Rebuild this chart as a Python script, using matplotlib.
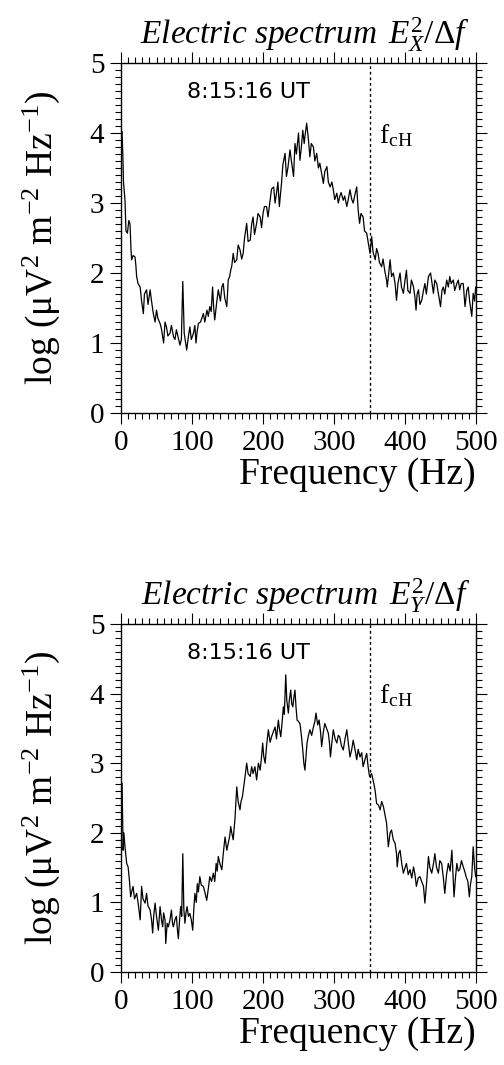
import numpy as np
import matplotlib
matplotlib.use('Agg')
import matplotlib.pyplot as plt
from matplotlib.ticker import MultipleLocator

plt.rcParams['font.family'] = ['Liberation Serif', 'DejaVu Serif']
plt.rcParams['mathtext.fontset'] = 'custom'
plt.rcParams['mathtext.rm'] = 'Liberation Serif'
plt.rcParams['mathtext.it'] = 'Liberation Serif:italic'
plt.rcParams['mathtext.default'] = 'regular'

# spectrum E_X (top panel), frequency in Hz / log power
fx = [1.5, 2.5, 3.5, 5.6, 7, 9, 11, 12.7, 14, 15, 17, 19.7, 21, 22, 24, 27, 29, 31.5, 33, 36, 38, 41,
      43, 45.5, 48, 50, 52, 55, 57, 60, 62, 64, 66, 69, 71, 74, 76, 78, 80, 83, 85, 87, 89, 91,
      92.5, 95, 97, 99, 102, 104, 105.6, 107, 109, 112, 116, 118, 121, 123, 125, 127, 129, 130.5,
      132, 135, 137, 140, 142, 144, 146, 149, 151, 153, 154.5, 156, 158, 160, 163, 165, 167.6,
      170, 172, 174, 177, 179, 182, 184, 186, 188, 191, 193, 196, 198, 200, 202, 205, 207, 210,
      212, 215, 217, 219, 221, 223, 226, 228, 231, 233, 235, 238, 240, 243, 245, 247, 250, 252,
      254, 256, 258, 259, 261.5, 264, 266, 268, 271, 273, 275.6, 278, 280, 283, 285, 287, 290,
      292, 294.5, 297, 299, 301, 304, 306, 308, 310, 313, 315, 318, 320, 322.5, 325, 327, 329,
      332, 334, 336, 338, 341, 343, 346, 348, 350.7, 353, 355, 358, 360, 362, 364, 367, 369, 372,
      374, 375, 377, 379, 381, 383.5, 386, 388, 390, 393, 395, 397.7, 400, 402, 404, 407, 409,
      412, 414, 415.5, 417, 419, 421, 423.5, 426, 428, 430, 433, 436, 438, 440, 442, 444.6, 447,
      450, 452, 454, 456, 458.7, 461, 463, 465, 468, 470, 473, 475, 477, 479, 482, 484.5, 487,
      489, 491, 494, 496, 498, 499.5]
ex = [4.02, 3.7, 3.3, 3.04, 2.6, 2.57, 2.75, 2.7, 2.35, 2.19, 2.25, 2.23, 2.1, 1.95, 1.85, 1.8,
      1.6, 1.42, 1.7, 1.76, 1.55, 1.76, 1.6, 1.42, 1.3, 1.47, 1.35, 1.28, 1.2, 1.0, 1.3, 1.23,
      1.1, 1.14, 1.25, 1.09, 1.05, 1.19, 1.1, 0.97, 1.05, 1.88, 1.14, 1.0, 0.9, 1.1, 1.23, 1.05,
      1.14, 1.25, 1.0, 1.15, 1.28, 1.3, 1.42, 1.3, 1.47, 1.38, 1.52, 1.45, 1.8, 1.5, 1.33, 1.6,
      1.76, 1.6, 1.8, 1.85, 1.65, 1.52, 1.9, 1.95, 2.04, 2.1, 2.28, 2.15, 2.19, 2.4, 2.33, 2.2,
      2.28, 2.5, 2.71, 2.45, 2.47, 2.7, 2.8, 2.55, 2.71, 2.85, 2.8, 2.65, 2.85, 2.95, 2.95, 2.8,
      3.04, 3.2, 3.23, 3.0, 3.14, 3.3, 2.95, 3.28, 3.55, 3.71, 3.38, 3.5, 3.76, 3.6, 3.38, 3.85,
      3.7, 4.0, 3.61, 3.8, 4.04, 3.85, 3.95, 4.14, 3.9, 3.66, 3.85, 3.8, 3.6, 3.71, 3.5, 3.57,
      3.4, 3.28, 3.45, 3.52, 3.3, 3.23, 3.3, 3.19, 3.05, 3.14, 3.0, 3.09, 3.15, 3.04, 3.1, 2.95,
      3.05, 3.19, 3.05, 3.0, 3.1, 3.23, 2.9, 2.71, 2.85, 2.8, 2.6, 2.57, 2.45, 2.28, 2.52, 2.3,
      2.19, 2.35, 2.28, 2.15, 2.09, 2.2, 2.0, 1.9, 1.8, 2.0, 2.19, 1.95, 2.0, 1.85, 1.61, 1.85,
      2.0, 1.8, 1.71, 1.9, 2.04, 1.75, 1.71, 1.9, 1.8, 1.65, 1.47, 1.7, 1.76, 1.55, 1.61, 1.75,
      1.85, 1.7, 1.95, 2.0, 1.85, 1.71, 1.9, 1.85, 1.7, 1.52, 1.75, 1.8, 1.7, 1.9, 1.8, 1.95,
      1.85, 1.9, 1.75, 1.85, 1.9, 1.76, 1.85, 1.85, 1.52, 1.75, 1.8, 1.6, 1.38, 1.71, 1.6, 1.8]

# spectrum E_Y (bottom panel)
fy = [1.5, 3, 4, 5.6, 8, 10, 12, 13.6, 15, 17, 19, 22, 24, 27, 29, 31, 34, 36, 38, 41, 43, 44.6,
      46, 48, 50, 52.6, 55, 57, 58.7, 60, 62, 63, 65, 66.7, 69, 71, 72.5, 73.7, 76, 78, 79.5,
      80.8, 82.5, 84, 85.5, 87, 88.5, 90, 91.5, 93, 95, 97, 99, 101, 102.5, 104, 106, 107.5, 109,
      111, 113, 116, 118, 120.7, 123, 125, 127.5, 130, 132, 134, 135.5, 137, 139.5, 142, 144,
      146.5, 149, 151, 153, 154.5, 156, 158, 160.5, 163, 165, 167.6, 169, 171, 174, 177, 179,
      182, 184, 186, 188.5, 191, 193.5, 196, 198, 199.5, 201, 203, 205, 207.5, 210, 212, 214.5,
      217, 219, 221.6, 223, 225, 227, 228.6, 230, 232, 233.5, 235.7, 237, 239, 240.5, 242,
      243.5, 245, 246.5, 248, 250, 252, 254, 256, 257.5, 259, 260.5, 262, 264, 266, 268.5, 271,
      273, 274.6, 277, 279, 281, 282.6, 285, 287, 289.5, 292, 293.5, 295, 297, 299, 301.5, 304,
      306, 308, 310.5, 313, 315.5, 318, 320, 322.5, 325, 327, 329.5, 332, 334, 336.6, 339, 341,
      343.5, 346, 348, 350, 353, 356, 358, 360, 362.5, 365, 367, 369.5, 372, 374, 376.5, 379,
      381, 383.5, 386, 388, 389, 391, 393, 395.5, 397.7, 400, 402, 404.5, 407, 409.5, 412, 414,
      416, 418.5, 421, 423.5, 426, 428, 430.5, 433, 435, 437.6, 440, 442, 444.5, 447, 449, 451.6,
      454, 456, 458.5, 461, 463.5, 466, 467.5, 469, 471, 473, 475, 477, 479.5, 482, 484, 486,
      488.5, 490.6, 492, 494, 496, 498, 499.5]
ey = [2.71, 1.75, 2.0, 1.8, 1.56, 1.51, 1.3, 1.08, 1.15, 1.23, 1.05, 1.13, 1.0, 0.75, 1.23, 1.05,
      0.99, 1.13, 0.95, 0.89, 0.75, 0.56, 0.8, 0.99, 0.8, 0.6, 0.94, 0.75, 0.65, 0.85, 0.75, 0.41,
      0.7, 0.65, 0.75, 0.89, 0.7, 0.65, 0.75, 0.8, 0.6, 0.48, 0.75, 0.94, 0.8, 1.7, 0.9, 0.7, 0.85,
      0.94, 0.8, 0.84, 0.75, 0.6, 0.9, 1.13, 1.0, 1.27, 1.15, 1.37, 1.25, 1.23, 1.15, 1.03, 1.2,
      1.37, 1.3, 1.42, 1.3, 1.56, 1.45, 1.66, 1.55, 1.47, 1.7, 1.94, 1.75, 1.85, 1.95, 2.09, 2.0,
      1.9, 2.2, 2.66, 2.45, 2.33, 2.45, 2.52, 2.75, 3.0, 2.85, 2.81, 2.95, 2.85, 2.95, 2.76, 3.0,
      2.9, 3.1, 3.29, 3.1, 3.0, 3.25, 3.48, 3.3, 3.38, 3.45, 3.52, 3.35, 3.62, 3.5, 3.38, 3.6,
      3.81, 3.7, 4.27, 3.9, 3.72, 3.9, 4.05, 3.85, 3.81, 3.95, 4.05, 3.8, 3.62, 3.6, 3.57, 3.4,
      3.19, 3.0, 2.9, 3.1, 3.29, 3.4, 3.48, 3.4, 3.52, 3.6, 3.72, 3.55, 3.62, 3.45, 3.24, 3.45,
      3.57, 3.5, 3.43, 3.3, 3.09, 3.3, 3.48, 3.35, 3.29, 3.4, 3.38, 3.25, 3.19, 3.35, 3.48, 3.3,
      3.09, 3.2, 3.33, 3.2, 3.05, 3.2, 3.09, 3.15, 2.95, 3.05, 3.14, 2.95, 2.81, 2.85, 2.71, 2.6,
      2.42, 2.4, 2.33, 2.45, 2.38, 2.25, 2.14, 1.8, 2.0, 2.04, 1.9, 1.85, 1.7, 1.51, 1.7, 1.75,
      1.55, 1.42, 1.5, 1.56, 1.4, 1.47, 1.35, 1.51, 1.4, 1.23, 1.35, 1.37, 1.3, 1.23, 0.99, 1.3,
      1.66, 1.5, 1.42, 1.55, 1.7, 1.5, 1.42, 1.6, 1.56, 1.35, 1.13, 1.4, 1.56, 1.45, 1.75, 1.4,
      1.08, 1.35, 1.56, 1.45, 1.47, 1.6, 1.51, 1.45, 1.37, 1.3, 1.08, 1.25, 1.37, 1.8, 1.5, 1.37]

f_cH = 350
time_label = '8:15:16 UT'
titles = [r'$\mathit{Electric\ spectrum}\ \,\mathit{E}_\mathit{X}^{2}/\Delta \mathit{f}$',
          r'$\mathit{Electric\ spectrum}\ \,\mathit{E}_\mathit{Y}^{2}/\Delta \mathit{f}$']

fig = plt.figure(figsize=(5.04, 10.65), dpi=100)
ax1 = fig.add_axes([0.2401, 0.6122, 0.7044, 0.3286])
ax2 = fig.add_axes([0.2401, 0.0873, 0.7044, 0.3268])

for ax, f, s, t in [(ax1, fx, ex, titles[0]), (ax2, fy, ey, titles[1])]:
    ax.plot(f, s, color='k', lw=0.9)
    ax.axvline(f_cH, color='k', lw=1, linestyle=(0, (2, 2)))
    ax.set_xlim(0, 500)
    ax.set_ylim(0, 5)
    ax.xaxis.set_major_locator(MultipleLocator(100))
    ax.xaxis.set_minor_locator(MultipleLocator(10))
    ax.yaxis.set_major_locator(MultipleLocator(1))
    ax.yaxis.set_minor_locator(MultipleLocator(0.1))
    ax.tick_params(which='both', direction='out', top=True, right=True,
                   labelsize=21, width=0.8, pad=4)
    ax.tick_params(which='major', length=8)
    ax.tick_params(which='minor', length=4.3)
    for sp in ax.spines.values():
        sp.set_linewidth(1)
    ax.set_xlabel('Frequency (Hz)', fontsize=27, loc='right', labelpad=1)
    ax.set_ylabel(r'log ($\mu$V$^2$ m$^{-2}$ Hz$^{-1}$)', fontsize=27, labelpad=20)
    ax.text(179, 4.5, time_label, fontsize=16, family='DejaVu Sans', ha='center', va='baseline')
    ax.text(363, 3.86, r'f$_{\mathrm{cH}}$', fontsize=20, ha='left', va='baseline')
    ax.text(0.983, 1.054, t, transform=ax.transAxes, fontsize=24, ha='right', va='baseline')

fig.savefig('out.png', dpi=100)
